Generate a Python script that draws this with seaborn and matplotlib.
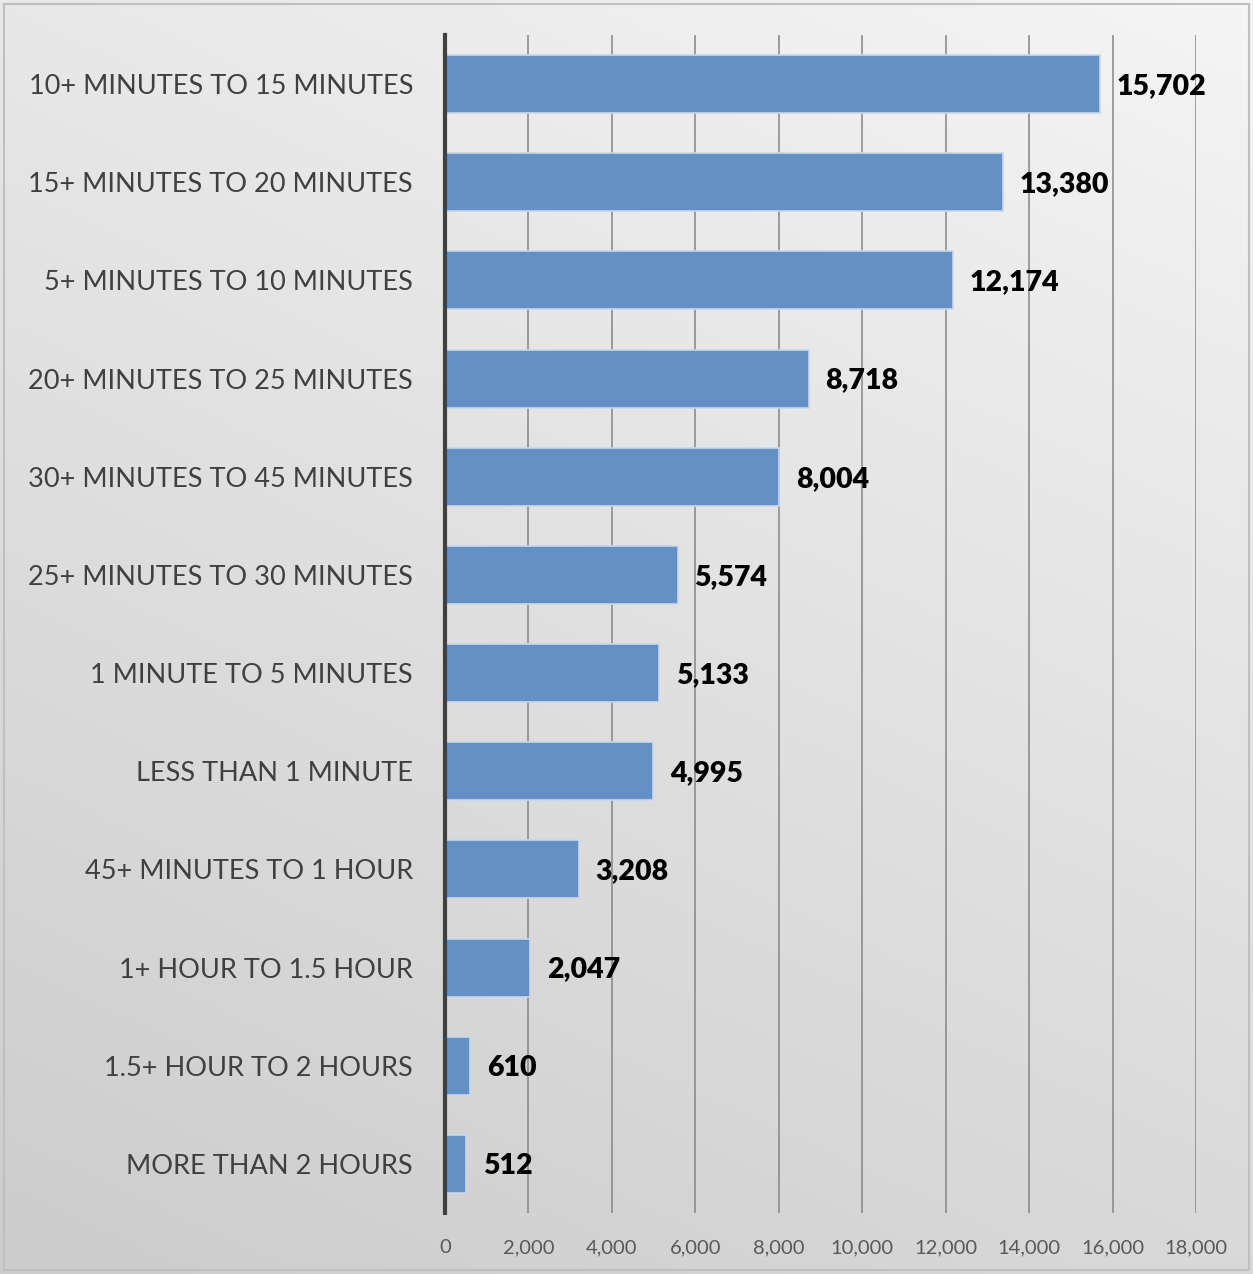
import numpy as np
import pandas as pd
import seaborn as sns
import matplotlib.pyplot as plt
from matplotlib.ticker import FuncFormatter

# Data
categories = [
    "10+ MINUTES TO 15 MINUTES",
    "15+ MINUTES TO 20 MINUTES",
    "5+ MINUTES TO 10 MINUTES",
    "20+ MINUTES TO 25 MINUTES",
    "30+ MINUTES TO 45 MINUTES",
    "25+ MINUTES TO 30 MINUTES",
    "1 MINUTE TO 5 MINUTES",
    "LESS THAN 1 MINUTE",
    "45+ MINUTES TO 1 HOUR",
    "1+ HOUR TO 1.5 HOUR",
    "1.5+ HOUR TO 2 HOURS",
    "MORE THAN 2 HOURS",
]
counts = [15702, 13380, 12174, 8718, 8004, 5574, 5133, 4995, 3208, 2047, 610, 512]
x_ticks = [0, 2000, 4000, 6000, 8000, 10000, 12000, 14000, 16000, 18000]

df = pd.DataFrame({"category": categories, "count": counts})

sns.set_style("white")
plt.rcParams["font.family"] = ["Lato", "DejaVu Sans"]

fig = plt.figure(figsize=(12.53, 12.74), dpi=100)

# gradient background (lighter top, darker bottom-left)
bg = fig.add_axes([0, 0, 1, 1], zorder=-10)
yy, xx = np.mgrid[0:1:300j, 0:1:300j]
shade = 0.80 + 0.11 * (1 - yy) + 0.05 * xx
shade = np.clip(shade, 0, 0.97)
bg.imshow(np.dstack([shade, shade, shade]), extent=[0, 1, 0, 1], aspect="auto", origin="upper")
bg.set_axis_off()
# thin frame
fig.patches.append(plt.Rectangle((0.003, 0.003), 0.994, 0.994, transform=fig.transFigure,
                                 fill=False, edgecolor="#bfbfbf", linewidth=1.5))

ax = fig.add_axes([445 / 1253, 1 - 1213 / 1274, (1196 - 445) / 1253, (1213 - 35) / 1274])
ax.patch.set_alpha(0)

sns.barplot(data=df, x="count", y="category", orient="h", color="#6590C6",
            saturation=1, width=0.59, edgecolor="#c9d8ea", linewidth=1.2, ax=ax, zorder=3)

ax.set_xlim(0, 18000)
ax.set_xticks(x_ticks)
ax.xaxis.set_major_formatter(FuncFormatter(lambda v, p: f"{int(v):,}"))
ax.grid(axis="x", color="#858585", linewidth=1.1, zorder=0)
ax.set_axisbelow(True)
ax.set_xlabel("")
ax.set_ylabel("")

for side in ["top", "right", "bottom"]:
    ax.spines[side].set_visible(False)
ax.spines["left"].set_color("#404040")
ax.spines["left"].set_linewidth(3)
ax.spines["left"].set_zorder(5)

ax.tick_params(axis="x", length=0, pad=19, labelsize=14.5, labelcolor="#595959")
ax.tick_params(axis="y", length=0, pad=23, labelsize=19.5, labelcolor="#404040")

for i, v in enumerate(counts):
    ax.text(v + 400, i + 0.02, f"{v:,}", va="center", ha="left",
            fontsize=20.5, fontweight="heavy", color="black", zorder=6)

fig.savefig("out.png", dpi=100)
